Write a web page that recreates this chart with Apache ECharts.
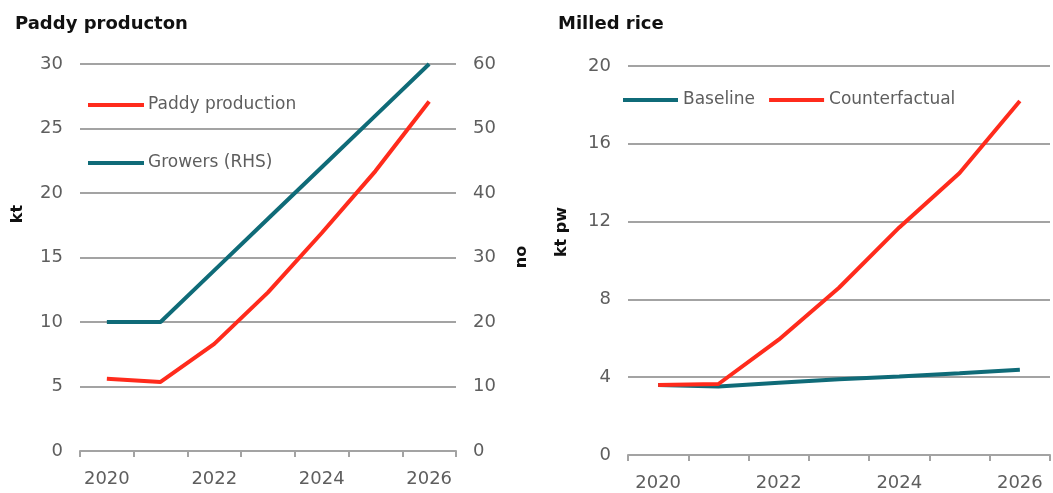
<!DOCTYPE html>
<html>
<head>
<meta charset="utf-8">
<script src="https://cdn.jsdelivr.net/npm/echarts@6/dist/echarts.min.js"></script>
<style>
  html, body { margin: 0; padding: 0; background: #fff; }
  #chart { width: 1053px; height: 493px; }
</style>
</head>
<body>
<div id="chart"></div>
<script>
// Years shared by both panels
const years = ['2020', '2021', '2022', '2023', '2024', '2025', '2026'];

// Left panel: paddy production (kt) and number of growers (RHS)
const paddyProduction = [5.6, 5.35, 8.3, 12.3, 16.9, 21.7, 27.1];
const growers = [20, 20, 28, 36, 44, 52, 60];

// Right panel: milled rice (kt pw)
const baseline = [3.6, 3.52, 3.72, 3.9, 4.03, 4.2, 4.38];
const counterfactual = [3.6, 3.65, 5.93, 8.6, 11.7, 14.5, 18.2];

const TEAL = '#0f6b78';
const RED = '#ff2b1c';
const GRID = '#a3a3a3';
const LABEL = '#5e5e5e';
const FONT = '"DejaVu Sans", Arial, sans-serif';

const xAxisBase = (gridIndex) => ({
  type: 'category',
  gridIndex,
  data: years,
  boundaryGap: true,
  axisLine: { show: true, lineStyle: { color: GRID, width: 2 } },
  axisTick: { show: true, interval: 0, length: 6, lineStyle: { color: GRID, width: 2 } },
  axisLabel: { interval: 1, color: LABEL, fontSize: 18, fontFamily: FONT, margin: 19 }
});

const valueLabel = { color: LABEL, fontSize: 18, fontFamily: FONT, margin: 17 };
const splitLine = { show: true, lineStyle: { color: GRID, width: 2 } };
const nameStyle = { fill: '#111', fontSize: 16, fontWeight: 'bold', fontFamily: FONT,
  align: 'center', verticalAlign: 'middle' };

// Rotated axis unit labels
const unitLabel = (text, x, y) => ({
  type: 'text', x, y, rotation: Math.PI / 2,
  style: Object.assign({ text }, nameStyle)
});

const chart = echarts.init(document.getElementById('chart'), null, { renderer: 'canvas' });

chart.setOption({
  animation: false,
  backgroundColor: '#fff',
  title: [
    { text: 'Paddy producton', left: 10, top: 10,
      textStyle: { fontSize: 18, fontWeight: 'bold', color: '#111', fontFamily: FONT } },
    { text: 'Milled rice', left: 553, top: 10,
      textStyle: { fontSize: 18, fontWeight: 'bold', color: '#111', fontFamily: FONT } }
  ],
  graphic: [
    unitLabel('kt', 18, 214),
    unitLabel('no', 522, 257),
    unitLabel('kt pw', 562, 232)
  ],
  legend: [
    { orient: 'vertical', left: 83, top: 90, itemWidth: 56, itemHeight: 4, itemGap: 38,
      icon: 'rect', data: ['Paddy production', 'Growers (RHS)'],
      textStyle: { color: LABEL, fontSize: 17, lineHeight: 20, fontFamily: FONT, padding: [0, 0, 0, -1] } },
    { orient: 'horizontal', left: 618, top: 85, itemWidth: 55, itemHeight: 4, itemGap: 14,
      icon: 'rect', data: ['Baseline', 'Counterfactual'],
      textStyle: { color: LABEL, fontSize: 17, lineHeight: 20, fontFamily: FONT, padding: [0, 0, 0, 0] } }
  ],
  grid: [
    { left: 80, right: 597, top: 64, bottom: 42 },
    { left: 628, right: 3, top: 66, bottom: 38 }
  ],
  xAxis: [xAxisBase(0), xAxisBase(1)],
  yAxis: [
    { type: 'value', gridIndex: 0, min: 0, max: 30, interval: 5, position: 'left',
      axisLine: { show: false }, axisTick: { show: false }, axisLabel: valueLabel, splitLine },
    { type: 'value', gridIndex: 0, min: 0, max: 60, interval: 10, position: 'right',
      axisLine: { show: false }, axisTick: { show: false }, axisLabel: valueLabel,
      splitLine: { show: false } },
    { type: 'value', gridIndex: 1, min: 0, max: 20, interval: 4,
      axisLine: { show: false }, axisTick: { show: false }, axisLabel: valueLabel, splitLine }
  ],
  series: [
    { name: 'Paddy production', type: 'line', xAxisIndex: 0, yAxisIndex: 0, data: paddyProduction,
      showSymbol: false, lineStyle: { color: RED, width: 4 }, itemStyle: { color: RED }, z: 3 },
    { name: 'Growers (RHS)', type: 'line', xAxisIndex: 0, yAxisIndex: 1, data: growers,
      showSymbol: false, lineStyle: { color: TEAL, width: 4 }, itemStyle: { color: TEAL }, z: 2 },
    { name: 'Baseline', type: 'line', xAxisIndex: 1, yAxisIndex: 2, data: baseline,
      showSymbol: false, lineStyle: { color: TEAL, width: 4 }, itemStyle: { color: TEAL }, z: 2 },
    { name: 'Counterfactual', type: 'line', xAxisIndex: 1, yAxisIndex: 2, data: counterfactual,
      showSymbol: false, lineStyle: { color: RED, width: 4 }, itemStyle: { color: RED }, z: 3 }
  ]
});
</script>
</body>
</html>
